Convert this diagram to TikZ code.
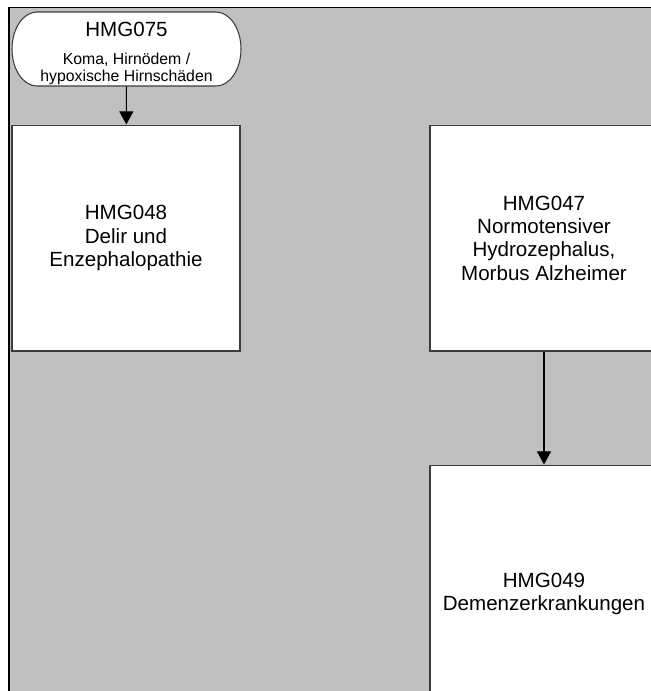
\documentclass[tikz,border=0pt]{standalone}
\usepackage{fontspec}
\setmainfont{Liberation Sans}
\usepackage{xcolor}
\definecolor{bg}{RGB}{192,192,192}
\definecolor{edge}{RGB}{60,60,60}
\usetikzlibrary{arrows.meta, positioning, calc}
\tikzstyle{block} = [draw=edge, fill=white, line width=0.6pt, rectangle, minimum width=4.56cm, minimum height=4.52cm, inner sep=0pt, align=center, font=\fontsize{11.7}{13.3}\selectfont]
\tikzstyle{term} = [rectangle, inner sep=0pt, align=center, minimum width=4.58cm, minimum height=1.3cm, font=\fontsize{9}{9.6}\selectfont]
\tikzstyle{link} = [-{Triangle[width=8pt,length=7.5pt]}, line width=0.6pt]

\begin{document}
\begin{tikzpicture}[x=0.02cm, y=-0.02cm]
    \useasboundingbox (0,0) rectangle (651,691);
    % background
    \fill[bg] (9,7.5) rectangle (670,710);
    \draw[line width=1.1pt] (9,710) -- (9,7.5) -- (670,7.5);

    % start, ends are half ellipses
    \draw[draw=edge, fill=white, line width=0.6pt]
    (37,12) -- (216,12) arc[start angle=90, end angle=-90, x radius=0.5cm, y radius=0.74cm]
    -- (37,86) arc[start angle=270, end angle=90, x radius=0.5cm, y radius=0.74cm] -- cycle;
    \node[term] (hmg075) at (126.5,53.5)
    {{\fontsize{11.7}{13.3}\selectfont HMG075}\\[6.3pt]Koma, Hirnödem /\\hypoxische Hirnschäden};

    % blocks
    \node[block] (hmg048) at (126,238) {HMG048\\ Delir und\\Enzephalopathie};
    \node[block] (hmg047) at (544,238) {HMG047\\Normotensiver\\Hydrozephalus,\\Morbus Alzheimer};
    \node[block, minimum height=5.16cm] (hmg049) at (544,594) {HMG049\\Demenzerkrankungen};

    % links
    \draw[link] (hmg075) -- (hmg048);
    \draw[link] (hmg047) -- (hmg049);
\end{tikzpicture}
\end{document}
